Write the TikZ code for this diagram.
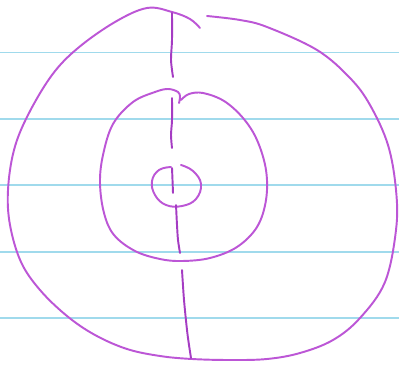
\documentclass[tikz,border=0pt]{standalone}
\begin{document}
\begin{tikzpicture}[x=0.75pt,y=-0.75pt,
  ink/.style={draw=inkc,line width=1.45pt,line cap=round,line join=round},
  strand/.style={ink,draw=inkd},
  rule/.style={draw=rulec,line width=1.1pt}]
\definecolor{inkc}{RGB}{188,86,214}
\definecolor{inkd}{RGB}{165,60,195}
\definecolor{rulec}{RGB}{160,218,236}
\useasboundingbox[fill=white] (0,0) rectangle (399,367);
% ruled paper lines
\foreach \y in {52.5,119,185,252,318}{\draw[rule] (0,\y) -- (399,\y);}
% outer loop
\draw[ink] plot[smooth,tension=0.6] coordinates{(207,16) (240,20) (267,27) (317,50) (350,78) (370,105) (388,145) (396,190) (396,230) (385,282) (360,318) (333,340) (300,353) (267,359) (230,360) (192,359) (160,356) (127,349) (95,335) (67,316) (40,290) (21,262) (10,225) (8,190) (14,150) (28,115) (52,75) (78,48) (115,22) (147,8) (172,12) (190,19) (200,28)};
% middle loop
\draw[ink] plot[smooth,tension=0.6] coordinates{(179,103) (180,97) (178,92) (168,89) (155,92) (133,102) (113,124) (103,155) (100,183) (104,213) (114,235) (135,251) (160,259) (182,261) (210,258) (237,247) (257,227) (266,200) (266,170) (257,140) (243,118) (224,101) (203,93) (189,94) (181,100)};
% small loop
\draw[ink] plot[smooth,tension=0.7] coordinates{(181,165) (193,171) (201,184) (196,199) (182,206) (166,205) (155,195) (152,181) (159,170) (171,167)};
% vertical strand pieces
\draw[strand] plot[smooth] coordinates{(172,13) (172,40) (171,60) (173,77)};
\draw[strand] plot[smooth] coordinates{(172,98) (172,120) (171,135) (172,148)};
\draw[strand] plot[smooth] coordinates{(172,168) (172.5,180) (173,193)};
\draw[strand] plot[smooth] coordinates{(176,205) (177,225) (178,240) (180,253)};
\draw[strand] plot[smooth] coordinates{(182,270) (184,300) (187,330) (189,345) (191,358)};
\end{tikzpicture}
\end{document}
